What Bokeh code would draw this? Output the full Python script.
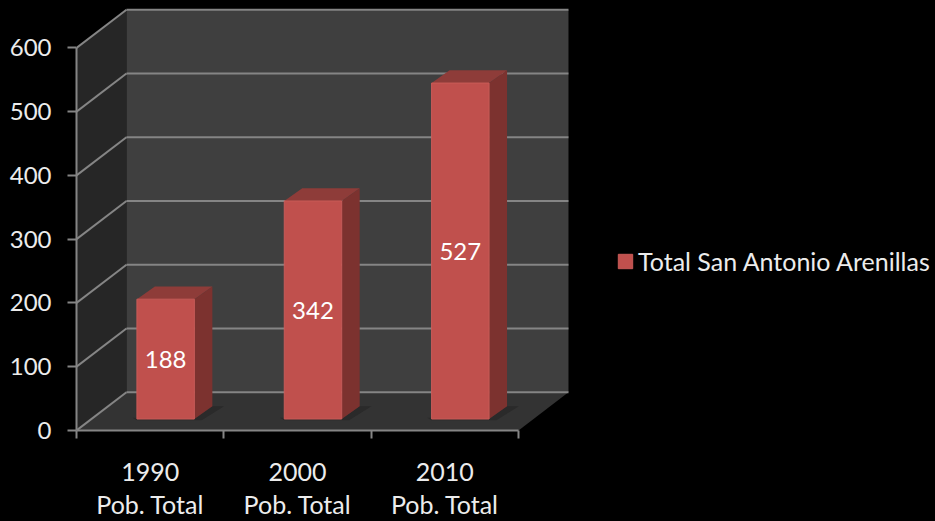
from bokeh.plotting import figure
from bokeh.models import ColumnDataSource, FixedTicker, Legend, LegendItem, Range1d
from bokeh.core.properties import value
from bokeh.embed import file_html
from bokeh.resources import INLINE

categories = ["1990\nPob. Total", "2000\nPob. Total", "2010\nPob. Total"]
values = [188, 342, 527]
y_ticks = [0, 100, 200, 300, 400, 500, 600]
series_name = "Total San Antonio Arenillas"

FONT = "Lato"
TXT = "#ececec"
GRID = "#858585"
DX, DY = 0.339, 60        # wall depth in data units
BDX, BDY = 0.122, 20      # bar depth in data units
BASE = 18                 # bar foot above the axis
BW = 0.39                 # bar width
N = len(values)
TOP = y_ticks[-1]

p = figure(width=935, height=521, output_backend="svg", toolbar_location=None,
           x_range=Range1d(0, 5.83), y_range=Range1d(0, 674.5),
           min_border_left=76, min_border_right=0, min_border_top=0, min_border_bottom=90,
           background_fill_color="black", border_fill_color="black",
           outline_line_color=None,
           styles={"position": "fixed", "left": "0", "top": "0", "background-color": "black"})
p.grid.visible = False

# walls and floor
p.patch([0, DX, DX, 0], [0, DY, TOP + DY, TOP], color="#262626", line_color=None)
p.patch([DX, N + DX, N + DX, DX], [DY, DY, TOP + DY, TOP + DY], color="#3f3f3f", line_color=None)
p.patch([0, N, N + DX, DX], [0, 0, DY, DY], color="#333333", line_color=None)

# grid lines on the back wall and the left wall
p.segment([DX] * len(y_ticks), [t + DY for t in y_ticks],
          [N + DX] * len(y_ticks), [t + DY for t in y_ticks], line_color=GRID, line_width=2)
p.segment([0] * len(y_ticks), y_ticks, [DX] * len(y_ticks), [t + DY for t in y_ticks],
          line_color=GRID, line_width=2)

# bars
lefts = [i + 0.41 for i in range(N)]
rights = [l + BW for l in lefts]
tops = [v + BASE for v in values]

shadow = [[l - 0.03, r, r + BDX, r + BDX + 0.08, r + 0.05, l] for l, r in zip(lefts, rights)]
shadow_y = [[BASE + 2, BASE, BASE + BDY, BASE + BDY, BASE - 2, BASE - 2] for _ in rights]
p.patches(shadow, shadow_y, color="#2a2a2a", line_color=None)

side_x = [[r, r + BDX, r + BDX, r] for r in rights]
side_y = [[BASE, BASE + BDY, t + BDY, t] for t in tops]
p.patches(side_x, side_y, color="#7c322f", line_color=None)

top_x = [[l, r, r + BDX, l + BDX] for l, r in zip(lefts, rights)]
top_y = [[t, t, t + BDY, t + BDY] for t in tops]
p.patches(top_x, top_y, color="#8e3c39", line_color=None)

src = ColumnDataSource(dict(left=lefts, right=rights, bottom=[BASE] * N, top=tops,
                            mid=[(l + r) / 2 for l, r in zip(lefts, rights)],
                            ymid=[BASE + v / 2 for v in values],
                            label=[str(v) for v in values]))
front = p.quad(left="left", right="right", bottom="bottom", top="top", source=src,
               fill_color="#c0504d", line_color="#c85b58", line_width=1)

p.text(x="mid", y="ymid", text="label", source=src, text_color="white",
       text_font=value(FONT), text_font_size="24px", text_align="center", text_baseline="middle")

# axes
ya = p.yaxis[0]
ya.ticker = FixedTicker(ticks=y_ticks)
ya.bounds = (0, TOP)
ya.axis_line_color = GRID
ya.axis_line_width = 2
ya.major_tick_line_color = GRID
ya.major_tick_line_width = 2
ya.major_tick_out = 9
ya.major_tick_in = 0
ya.minor_tick_line_color = None
ya.major_label_standoff = 16
ya.major_label_text_color = TXT
ya.major_label_text_font = FONT
ya.major_label_text_font_size = "24px"

xa = p.xaxis[0]
mids = [i + 0.5 for i in range(N)]
xa.ticker = FixedTicker(ticks=mids, minor_ticks=list(range(N + 1)))
xa.major_label_overrides = {m: c for m, c in zip(mids, categories)}
xa.bounds = (0, N)
xa.axis_line_color = GRID
xa.axis_line_width = 2
xa.major_tick_line_color = None
xa.minor_tick_line_color = GRID
xa.minor_tick_line_width = 2
xa.minor_tick_out = 8
xa.minor_tick_in = 0
xa.major_label_standoff = 17
xa.major_label_text_color = TXT
xa.major_label_text_font = FONT
xa.major_label_text_font_size = "25px"
xa.major_label_text_line_height = 1.1

legend = Legend(items=[LegendItem(label=series_name, renderers=[front])],
                location=(540, 154), background_fill_alpha=0, border_line_color=None,
                glyph_width=18, glyph_height=18, padding=0, margin=0, label_standoff=4,
                label_text_color=TXT, label_text_font=FONT, label_text_font_size="25px")
p.add_layout(legend)

open("out.html", "w").write(file_html(p, INLINE))
